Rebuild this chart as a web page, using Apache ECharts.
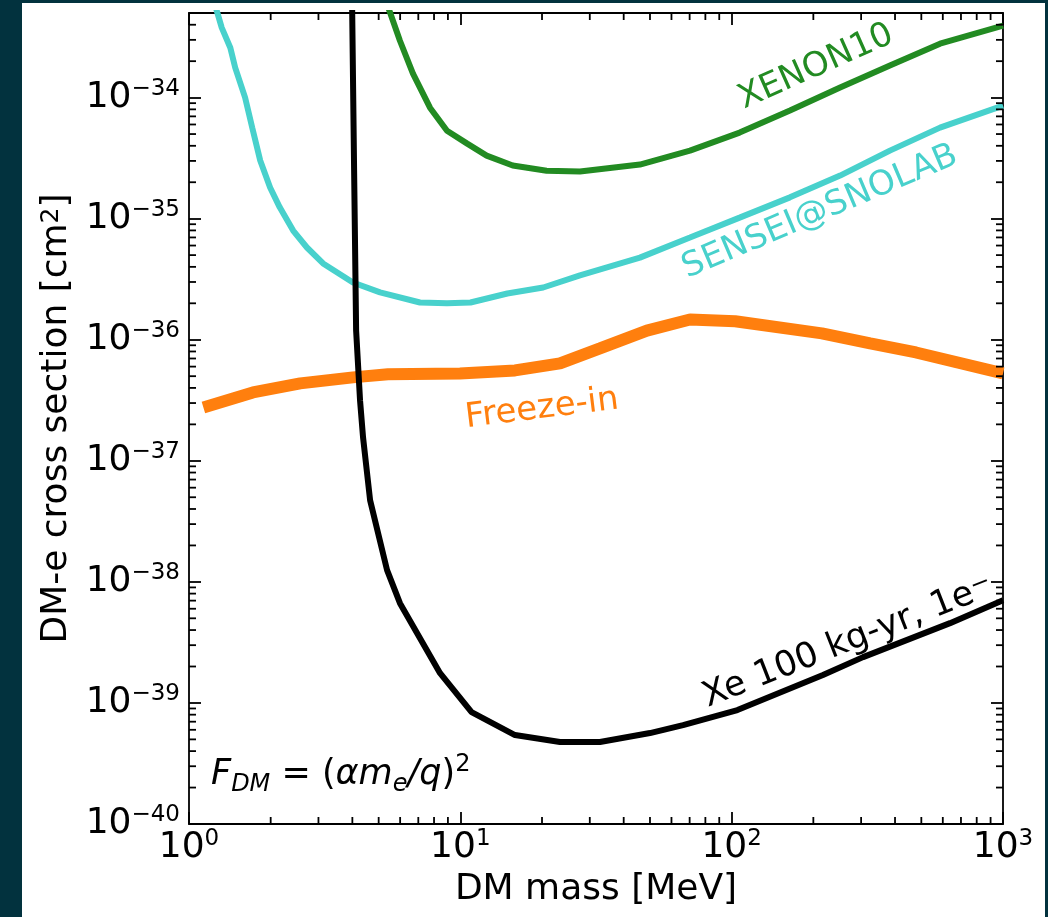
<!DOCTYPE html>
<html>
<head>
<meta charset="utf-8">
<script src="https://cdn.jsdelivr.net/npm/echarts@6/dist/echarts.min.js"></script>
<style>
html,body{margin:0;padding:0;background:#02323e;}
#chart{position:absolute;left:22px;top:3px;width:1023px;height:914px;background:#fff;}
</style>
</head>
<body>
<div id="chart"></div>
<script>
// DM mass [MeV] and cross section [cm^2]
var xeMass = [3.99, 4.06, 4.13, 4.27, 4.38, 4.65, 5.37, 5.99, 8.42, 11.0, 15.9, 23.3, 32.7, 50.0, 66.2, 105, 217, 305, 638, 1000];
var xeSigma = [6.3e-34, 2.49e-35, 1.19e-36, 3.15e-37, 1.56e-37, 4.72e-38, 1.25e-38, 6.67e-39, 1.76e-39, 8.4e-40, 5.43e-40, 4.75e-40, 4.75e-40, 5.64e-40, 6.56e-40, 8.73e-40, 1.70e-39, 2.39e-39, 4.56e-39, 7.06e-39];

var senseiMass = [1.25, 1.32, 1.42, 1.48, 1.61, 1.71, 1.83, 1.99, 2.16, 2.42, 2.72, 3.12, 4.02, 5.06, 7.10, 8.93, 10.9, 14.9, 20.2, 27.6, 45.9, 70.2, 107, 164, 251, 383, 586, 1000];
var senseiSigma = [5.74e-34, 3.79e-34, 2.58e-34, 1.77e-34, 1.0e-34, 5.65e-35, 3.02e-35, 1.81e-35, 1.24e-35, 7.98e-36, 5.78e-36, 4.27e-36, 2.97e-36, 2.46e-36, 2.03e-36, 2.0e-36, 2.03e-36, 2.41e-36, 2.70e-36, 3.40e-36, 4.77e-36, 6.98e-36, 1.02e-35, 1.50e-35, 2.27e-35, 3.65e-35, 5.65e-35, 8.59e-35];

var xenon10Mass = [5.32, 5.99, 6.69, 7.73, 8.93, 10.6, 12.5, 15.6, 20.8, 27.6, 45.9, 70.2, 107, 164, 251, 383, 586, 1000];
var xenon10Sigma = [6.3e-34, 2.95e-34, 1.58e-34, 8.26e-35, 5.33e-35, 4.17e-35, 3.32e-35, 2.75e-35, 2.49e-35, 2.45e-35, 2.80e-35, 3.65e-35, 5.14e-35, 7.82e-35, 1.21e-34, 1.84e-34, 2.79e-34, 3.93e-34];

var freezeMass = [1.13, 1.72, 2.57, 4.02, 5.41, 9.97, 15.9, 23.3, 32.7, 48.7, 70.2, 103, 215, 324, 478, 1000];
var freezeSigma = [2.76e-37, 3.67e-37, 4.36e-37, 4.89e-37, 5.18e-37, 5.27e-37, 5.58e-37, 6.38e-37, 8.47e-37, 1.19e-36, 1.47e-36, 1.42e-36, 1.13e-36, 9.33e-37, 7.85e-37, 5.27e-37];

// the y axis is drawn in units of 1e-40 cm^2 (tiny numbers get rounded to 0 by the log scale)
var Y_UNIT_EXP = -40;
var Y_UNIT = 1e-40;

var xMin = 1, xMax = 1000;
var yMin = 1e-40, yMax = 5e-34;

var FONT = "'DejaVu Sans', sans-serif";

function pairs(xs, ys){
  var res = [];
  for(var i=0;i<xs.length;i++){
    res.push([xs[i], ys[i]/Y_UNIT]);
  }
  return res;
}

// minor ticks at 2..9 of every decade
function minorValues(lo, hi){
  var res = [];
  for(var e=Math.floor(Math.log10(lo)); e<=Math.ceil(Math.log10(hi)); e++){
    for(var k=2;k<10;k++){
      var v = k*Math.pow(10,e);
      if(v>lo*1.0001 && v<hi*0.9999) res.push(v);
    }
  }
  return res;
}

function powText(e){
  var s = e<0 ? '\u2212'+(-e) : ''+e;
  return '{b|10}{s|'+s+'}';
}
function xLabel(v){
  var lg = Math.log10(v), e = Math.round(lg);
  if(!isFinite(lg) || Math.abs(lg-e)>1e-6) return '';
  return powText(e);
}
function yLabel(v){
  var lg = Math.log10(v), e = Math.round(lg);
  if(!isFinite(lg) || Math.abs(lg-e)>1e-6) return '';
  return powText(e + Y_UNIT_EXP);
}

var labelRich = {
  b:{fontSize:36, fontFamily:FONT, color:'#000', lineHeight:40},
  s:{fontSize:23, fontFamily:FONT, color:'#000', lineHeight:26, verticalAlign:'top'}
};

var TICK_MINOR = 7;
var axisLine = {show:true, onZero:false, lineStyle:{color:'#000', width:1.8}};
var axisTick = {show:true, inside:true, length:12, lineStyle:{color:'#000', width:1.8}};

var yLo = yMin/Y_UNIT, yHi = yMax/Y_UNIT;

var chart = echarts.init(document.getElementById('chart'), null, {renderer:'canvas'});

var option = {
  animation:false,
  backgroundColor:'#fff',
  grid:{left:167, top:10, width:814, height:811, containLabel:false, outerBoundsMode:'none'},
  xAxis:[
    {
      type:'log', logBase:10, min:xMin, max:xMax, position:'bottom',
      axisLine:axisLine, axisTick:axisTick, splitLine:{show:false},
      axisLabel:{margin:4, formatter:xLabel, rich:labelRich},
      name:'DM mass [MeV]', nameLocation:'middle', nameGap:48, nameMoveOverlap:false,
      nameTextStyle:{fontSize:36, fontFamily:FONT, color:'#000'}
    },
    {
      type:'log', logBase:10, min:xMin, max:xMax, position:'top',
      axisLine:axisLine, axisTick:axisTick, splitLine:{show:false},
      axisLabel:{show:false}
    }
  ],
  yAxis:[
    {
      type:'log', logBase:10, min:yLo, max:yHi, position:'left',
      axisLine:axisLine, axisTick:axisTick, splitLine:{show:false},
      axisLabel:{margin:9, formatter:yLabel, rich:labelRich},
      name:'DM-e cross section [cm{sup|2}]', nameLocation:'middle', nameGap:114, nameRotate:90,
      nameMoveOverlap:false,
      nameTextStyle:{fontSize:36, fontFamily:FONT, color:'#000',
        rich:{sup:{fontSize:25, fontFamily:FONT, color:'#000', verticalAlign:'top', lineHeight:26}}}
    },
    {
      type:'log', logBase:10, min:yLo, max:yHi, position:'right',
      axisLine:axisLine, axisTick:axisTick, splitLine:{show:false},
      axisLabel:{show:false}
    }
  ],
  series:[
    {
      name:'Freeze-in', type:'line', data:pairs(freezeMass, freezeSigma),
      showSymbol:false, symbol:'none', clip:true, z:2,
      lineStyle:{color:'#ff7f0e', width:12}
    },
    {
      name:'SENSEI@SNOLAB', type:'line', data:pairs(senseiMass, senseiSigma),
      showSymbol:false, symbol:'none', clip:true, z:3,
      lineStyle:{color:'#48d1cc', width:6}
    },
    {
      name:'XENON10', type:'line', data:pairs(xenon10Mass, xenon10Sigma),
      showSymbol:false, symbol:'none', clip:true, z:3,
      lineStyle:{color:'#228b22', width:6}
    },
    {
      name:'Xe 100 kg-yr', type:'line', data:pairs(xeMass, xeSigma),
      showSymbol:false, symbol:'none', clip:true, z:4,
      lineStyle:{color:'#000', width:6}
    },
    {
      // minor ticks, x axis (bottom and top)
      type:'custom', silent:true, clip:false, z:5,
      data:minorValues(xMin, xMax).map(function(v){ return [v, yLo]; }),
      renderItem:function(params, api){
        var b = api.coord([api.value(0), yLo]);
        var t = api.coord([api.value(0), yHi]);
        var st = {stroke:'#000', lineWidth:1.8};
        return {type:'group', children:[
          {type:'line', shape:{x1:b[0], y1:b[1], x2:b[0], y2:b[1]-TICK_MINOR}, style:st},
          {type:'line', shape:{x1:t[0], y1:t[1], x2:t[0], y2:t[1]+TICK_MINOR}, style:st}
        ]};
      }
    },
    {
      // minor ticks, y axis (left and right)
      type:'custom', silent:true, clip:false, z:5,
      data:minorValues(yLo, yHi).map(function(v){ return [xMin, v]; }),
      renderItem:function(params, api){
        var l = api.coord([xMin, api.value(1)]);
        var r = api.coord([xMax, api.value(1)]);
        var st = {stroke:'#000', lineWidth:1.8};
        return {type:'group', children:[
          {type:'line', shape:{x1:l[0], y1:l[1], x2:l[0]+TICK_MINOR, y2:l[1]}, style:st},
          {type:'line', shape:{x1:r[0], y1:r[1], x2:r[0]-TICK_MINOR, y2:r[1]}, style:st}
        ]};
      }
    }
  ],
  graphic:[
    {type:'text', x:794, y:64, rotation:24*Math.PI/180, z:10,
      style:{text:'XENON10', fill:'#228b22', fontSize:34, fontFamily:FONT, align:'center', verticalAlign:'middle'}},
    {type:'text', x:798, y:209, rotation:23*Math.PI/180, z:10,
      style:{text:'SENSEI@SNOLAB', fill:'#48d1cc', fontSize:34, fontFamily:FONT, align:'center', verticalAlign:'middle'}},
    {type:'text', x:520, y:406, rotation:7*Math.PI/180, z:10,
      style:{text:'Freeze-in', fill:'#ff7f0e', fontSize:34, fontFamily:FONT, align:'center', verticalAlign:'middle'}},
    {type:'text', x:826, y:639, rotation:21.5*Math.PI/180, z:10,
      style:{text:'Xe 100 kg-yr, 1e{sup|\u2212}', fill:'#000', fontSize:35, fontFamily:FONT, align:'center', verticalAlign:'middle',
        rich:{sup:{fontSize:24, fontFamily:FONT, fill:'#000', verticalAlign:'top', lineHeight:24}}}},
    {type:'text', x:189, y:772, z:10,
      style:{
        text:'{i|F}{sub|DM}{n| = (}{i|\u03b1m}{sub|e}{i|/q}{n|)}{sup|2}',
        fill:'#000', align:'left', verticalAlign:'middle',
        rich:{
          i:{fontSize:35, fontFamily:FONT, fontStyle:'italic', fill:'#000', lineHeight:44},
          n:{fontSize:35, fontFamily:FONT, fill:'#000', lineHeight:44},
          sub:{fontSize:24, fontFamily:FONT, fontStyle:'italic', fill:'#000', verticalAlign:'bottom', lineHeight:30},
          sup:{fontSize:24, fontFamily:FONT, fill:'#000', verticalAlign:'top', lineHeight:30}
        }
      }}
  ]
};

chart.setOption(option);
</script>
</body>
</html>
